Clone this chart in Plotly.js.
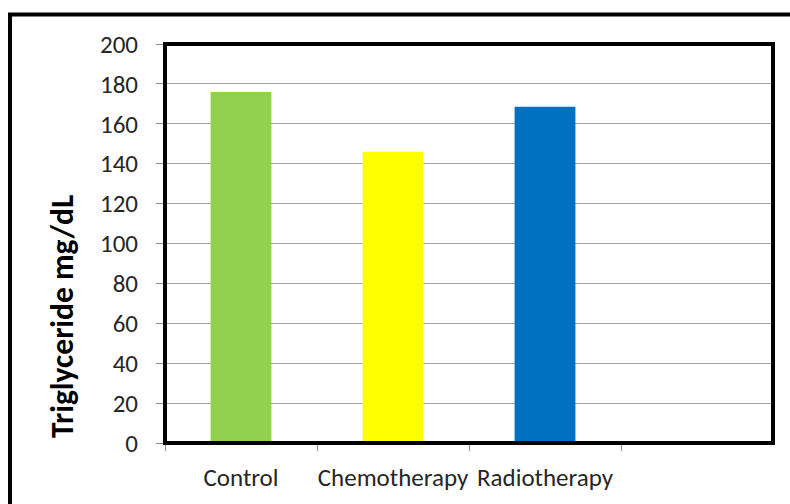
<!DOCTYPE html>
<html>
<head>
<meta charset="utf-8">
<script src="https://cdn.plot.ly/plotly-3.0.1.min.js"></script>
<style>
  html, body { margin: 0; padding: 0; background: #ffffff; }
  #chart { width: 790px; height: 504px; }
</style>
</head>
<body>
<div id="chart"></div>
<script>
// Triglyceride level per group
const groups = ['Control', 'Chemotherapy', 'Radiotherapy'];
const triglyceride = [176, 146, 168.5];
const barColors = ['#92D050', '#FFFF00', '#0070C0'];
const yTicks = [0, 20, 40, 60, 80, 100, 120, 140, 160, 180, 200];
const yTitle = 'Triglyceride mg/dL';

const FONT = 'Carlito, Calibri, Lato, sans-serif';

const W = 790, H = 504;
const M = { l: 165, r: 17, t: 44, b: 61 };
const plotW = W - M.l - M.r;
const plotH = H - M.t - M.b;
// convert pixel position to paper coordinates
const px = x => (x - M.l) / plotW;
const py = y => (H - M.b - y) / plotH;

const trace = {
  type: 'bar',
  x: groups,
  y: triglyceride,
  width: 0.4,
  marker: { color: barColors, line: { width: 0 } },
  hoverinfo: 'x+y'
};

const layout = {
  width: W,
  height: H,
  margin: M,
  paper_bgcolor: '#ffffff',
  plot_bgcolor: '#ffffff',
  showlegend: false,
  font: { family: FONT, color: '#262626', size: 25 },
  xaxis: {
    type: 'category',
    categoryorder: 'array',
    categoryarray: groups,
    range: [-0.5, 3.5],
    tickson: 'boundaries',
    tickangle: 0,
    ticks: 'outside',
    ticklen: 7,
    tickwidth: 1,
    tickcolor: '#8c8c8c',
    showgrid: false,
    showline: true,
    linecolor: '#8c8c8c',
    linewidth: 1,
    tickfont: { family: FONT, size: 25, color: '#262626' },
    ticklabelstandoff: 12,
    zeroline: false,
    fixedrange: true
  },
  yaxis: {
    range: [0, 200],
    tickvals: yTicks,
    ticktext: yTicks.map(String),
    ticks: 'outside',
    ticklen: 8,
    tickwidth: 1,
    tickcolor: '#8c8c8c',
    showgrid: true,
    gridcolor: '#a6a6a6',
    gridwidth: 1,
    showline: true,
    linecolor: '#8c8c8c',
    linewidth: 1,
    zeroline: false,
    tickfont: { family: FONT, size: 25, color: '#262626' },
    ticklabelstandoff: 13,
    fixedrange: true
  },
  shapes: [
    // plot-area frame
    {
      type: 'rect', xref: 'paper', yref: 'paper',
      x0: 0, x1: 1, y0: 0, y1: 1,
      line: { color: '#000000', width: 4 },
      layer: 'above'
    },
    // outer chart frame
    {
      type: 'rect', xref: 'paper', yref: 'paper',
      x0: px(10), x1: px(830), y0: py(540), y1: py(14.5),
      line: { color: '#000000', width: 4 },
      layer: 'above'
    }
  ],
  annotations: [
    {
      text: '<b>' + yTitle + '</b>',
      xref: 'paper', yref: 'paper',
      x: px(62), y: py(316),
      xanchor: 'center', yanchor: 'middle',
      textangle: -90,
      showarrow: false,
      font: { family: FONT, size: 31.5, color: '#000000' }
    }
  ]
};

Plotly.newPlot('chart', [trace], layout, { displayModeBar: false, staticPlot: true });
</script>
</body>
</html>
